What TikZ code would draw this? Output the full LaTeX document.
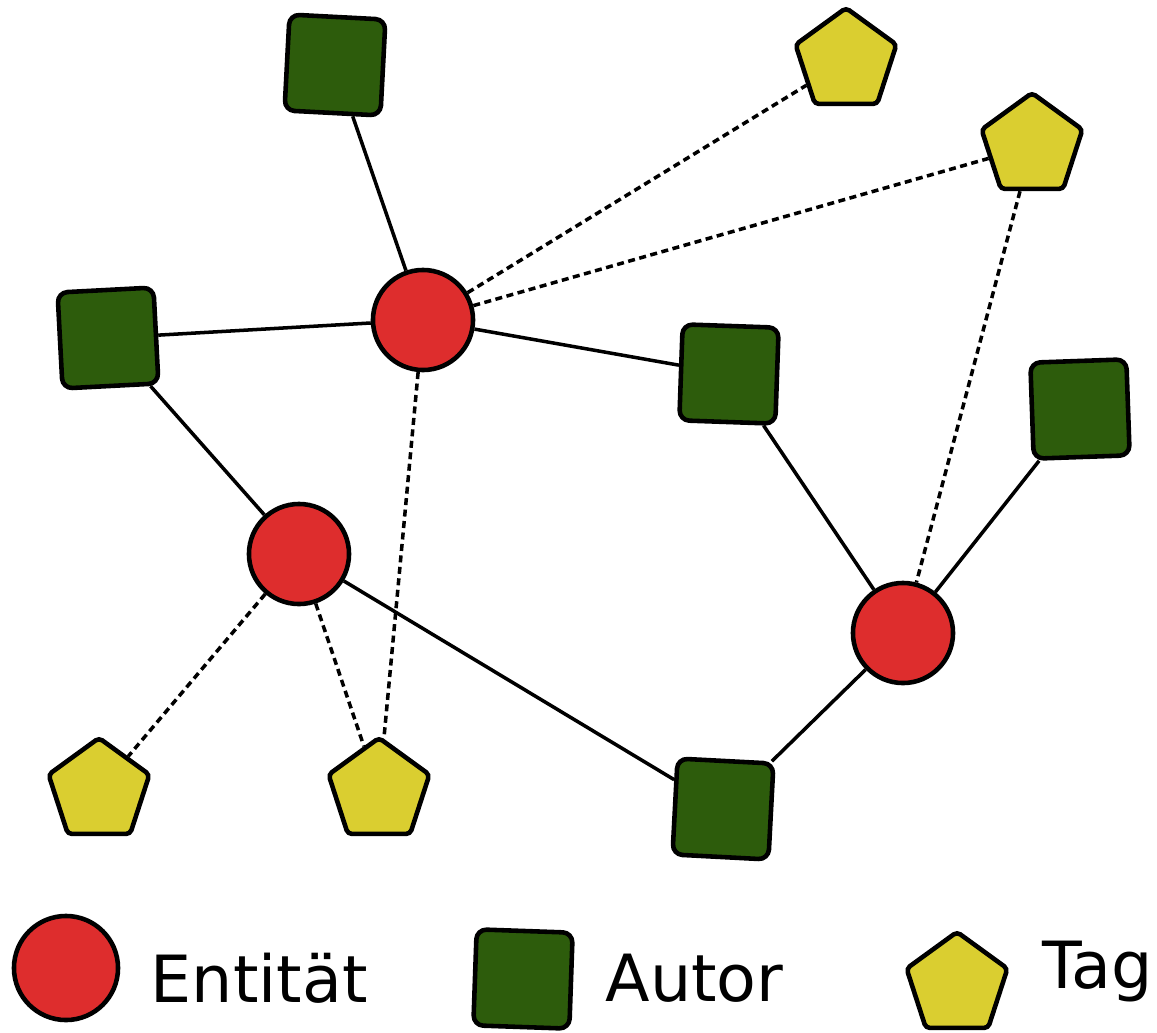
\documentclass[tikz,border=0pt]{standalone}
\usepackage{fontspec}
\setmainfont{DejaVu Sans}
\usetikzlibrary{shapes.geometric}

\definecolor{entrot}{RGB}{222,45,45}
\definecolor{autgruen}{RGB}{45,92,12}
\definecolor{taggelb}{RGB}{218,206,48}

\tikzset{
  entitaet/.style={circle, draw=black, line width=1.3pt, fill=entrot, minimum size=1cm, inner sep=0pt},
  autor/.style={rectangle, rounded corners=0.1cm, draw=black, line width=1.3pt, fill=autgruen, minimum size=0.96cm, inner sep=0pt},
  tagnode/.style={regular polygon, regular polygon sides=5, rounded corners=0.04cm, draw=black, line width=1.3pt, fill=taggelb, minimum size=1.06cm, inner sep=0pt},
  link/.style={line width=1pt},
  taglink/.style={line width=1pt, dash pattern=on 0.07cm off 0.045cm},
  legtext/.style={anchor=west, font=\fontsize{18.5}{22}\selectfont, inner sep=0pt}
}

\begin{document}
\begin{tikzpicture}[x=0.01cm, y=-0.01cm]
      \useasboundingbox (0,0) rectangle (1157,1033);
      % Entitaeten
      \node[entitaet] (e1) at (423,320) {};
      \node[entitaet] (e2) at (299,554) {};
      \node[entitaet] (e3) at (903,633) {};
      % Autoren
      \node[autor, rotate=-3] (a1) at (335,65) {};
      \node[autor, rotate=3] (a2) at (108,338) {};
      \node[autor, rotate=-2] (a3) at (729,374) {};
      \node[autor, rotate=2] (a4) at (1080,409) {};
      \node[autor, rotate=-3] (a5) at (723,809) {};
      % Tags
      \node[tagnode] (t1) at (846,61) {};
      \node[tagnode] (t2) at (1032,146) {};
      \node[tagnode] (t3) at (99,791) {};
      \node[tagnode] (t4) at (379,791) {};
      % Kanten
      \draw[link] (a1) -- (e1);
      \draw[link] (a2) -- (e1);
      \draw[link] (e1) -- (a3);
      \draw[link] (a2) -- (e2);
      \draw[link] (e2) -- (a5);
      \draw[link] (a3) -- (e3);
      \draw[link] (a4) -- (e3);
      \draw[link] (a5) -- (e3);
      \draw[taglink] (e1) -- (t1);
      \draw[taglink] (e1) -- (t2);
      \draw[taglink] (e1) -- (t4);
      \draw[taglink] (e2) -- (t3);
      \draw[taglink] (e2) -- (t4);
      \draw[taglink] (t2) -- (e3);
      % Legende
      \node[entitaet, minimum size=1.04cm] (le) at (66,968) {};
      \node[legtext] (lte) at (150,978) {Entität};
      \node[autor, rotate=-2] (la) at (523,979) {};
      \node[legtext] (lta) at (605,978) {Autor};
      \node[tagnode] (lt) at (957,985) {};
      \node[legtext] (ltt) at (1042,972) {Tag};
\end{tikzpicture}
\end{document}
